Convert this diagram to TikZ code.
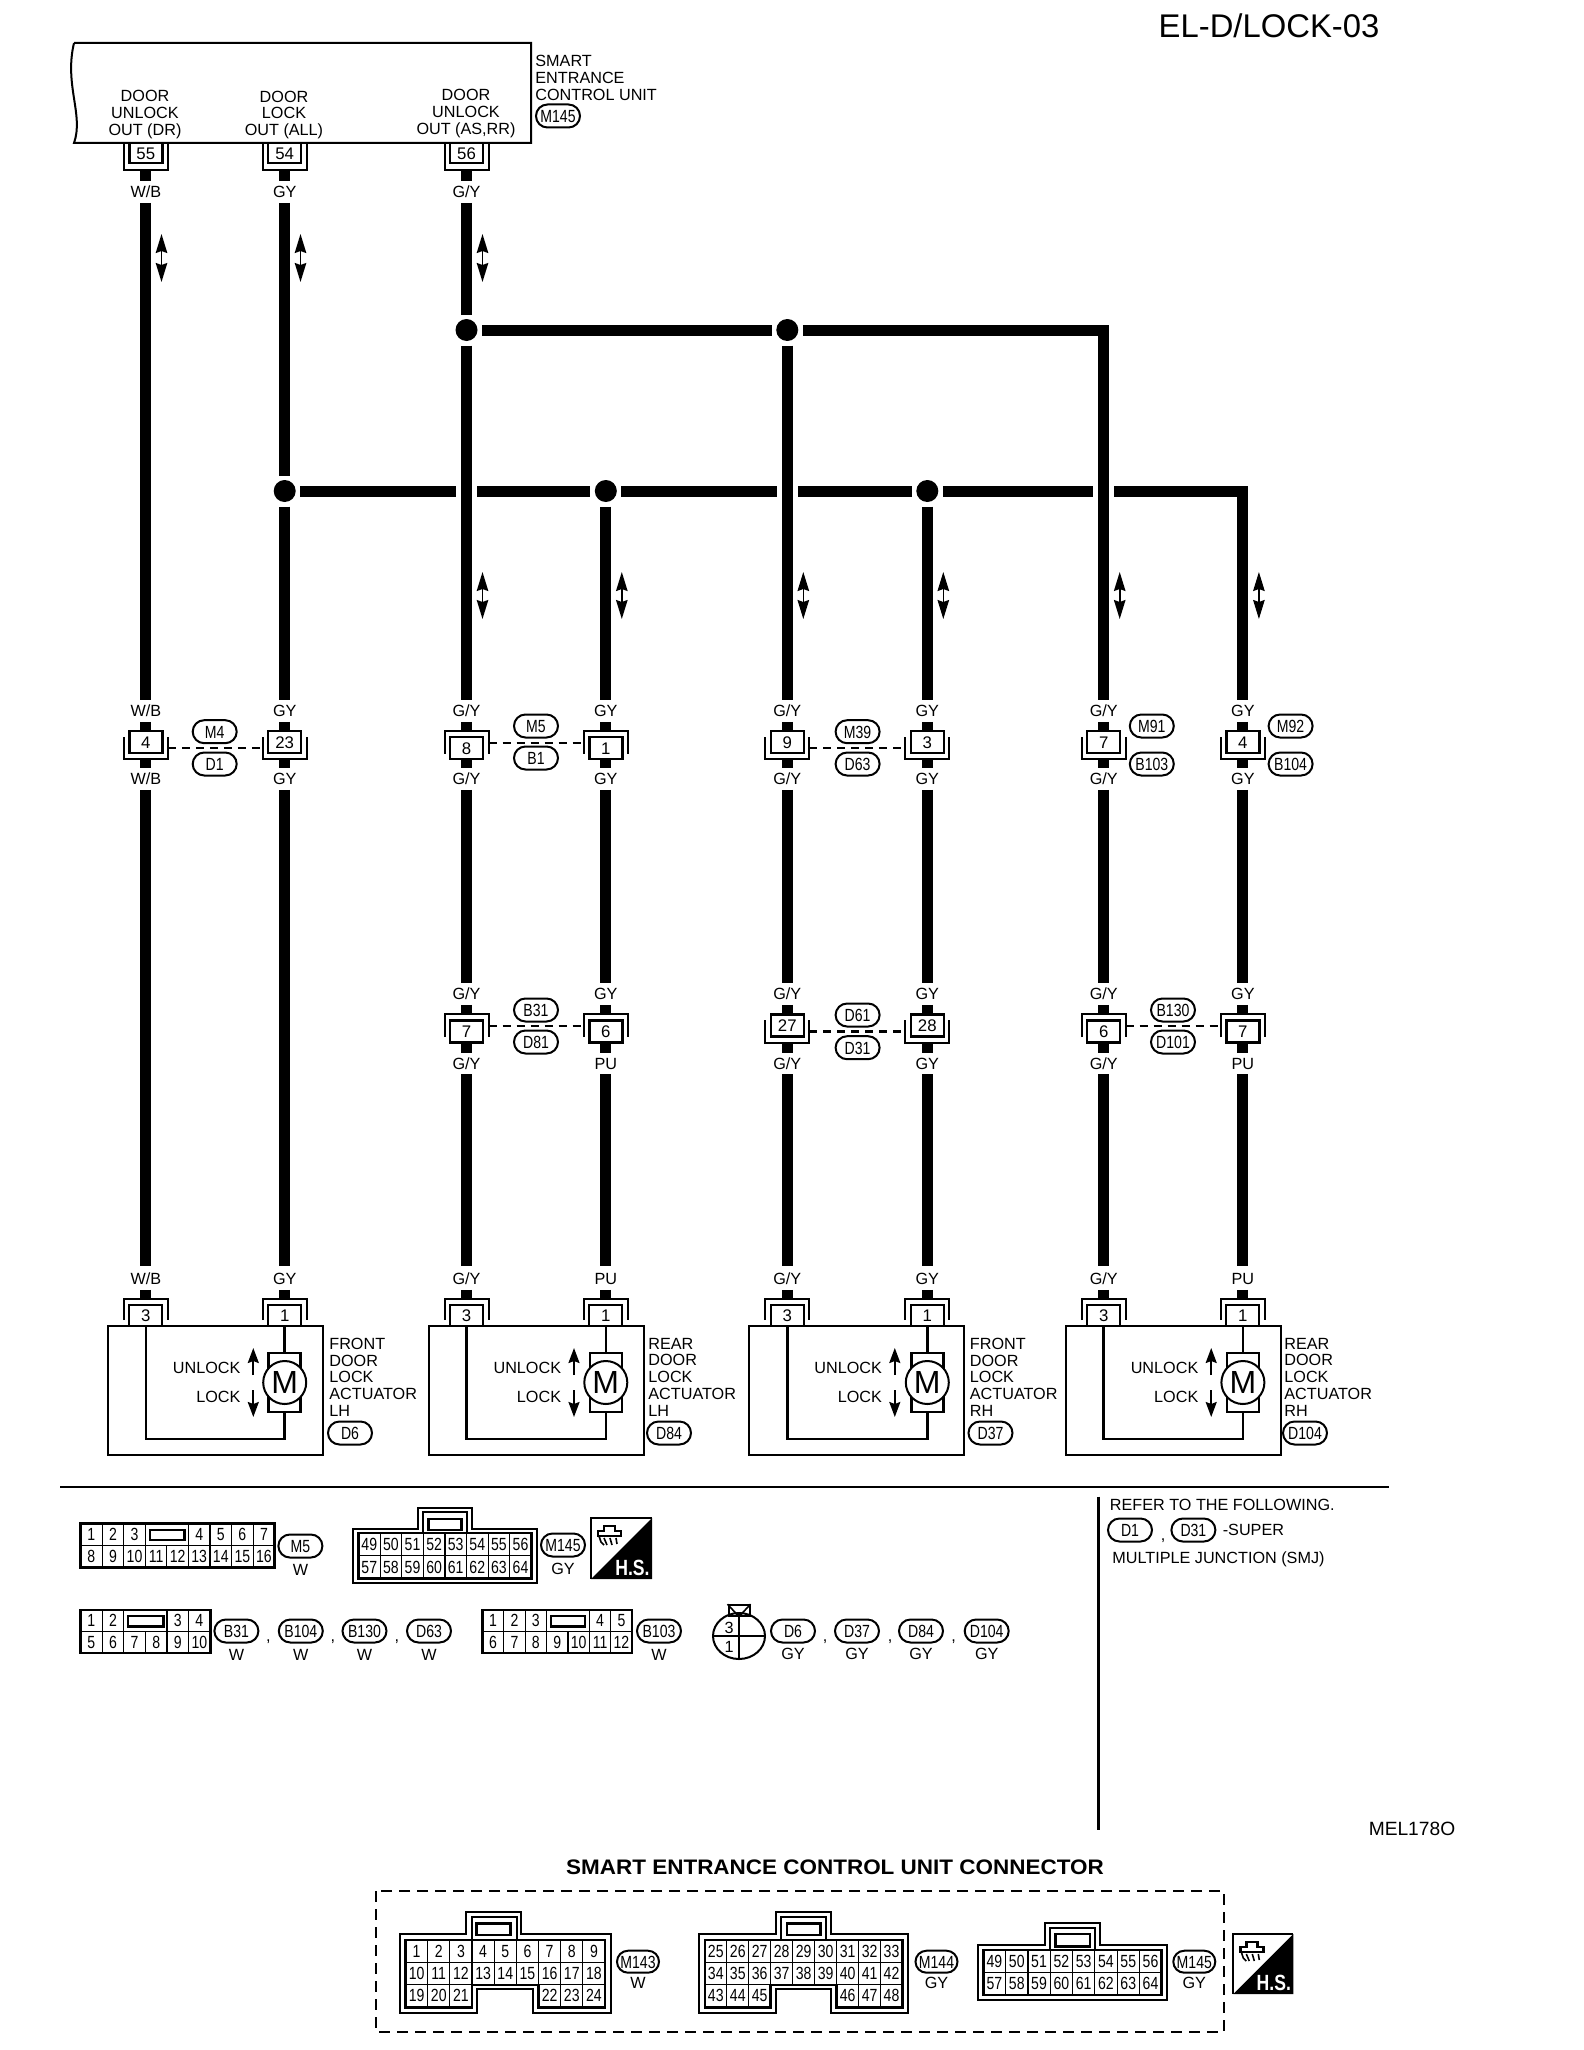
\documentclass[tikz,border=0pt]{standalone}
\usepackage{fontspec}
\setmainfont{Liberation Sans}
\newfontfamily\narrowfont[FakeStretch=0.8]{Liberation Sans}
\newfontfamily\widefont[FakeStretch=1.07]{Liberation Sans}
\usetikzlibrary{arrows.meta,shapes.misc,shapes.geometric}

\tikzset{
  wire/.style={line width=5.5pt},
  halo/.style={preaction={draw,white,line width=10.5pt}},
  thin line/.style={line width=1pt},
  shell/.style={line width=1pt},
  link/.style={line width=1pt,dash pattern=on 4pt off 3pt},
  tag/.style={inner sep=0pt,minimum height=10.5pt,text height=5.8pt,text depth=0pt,font=\fontsize{8.1pt}{8.4pt}\selectfont},
  plain/.style={inner sep=0pt,align=left,font=\fontsize{8.1pt}{8.4pt}\selectfont},
  junction/.style={circle,fill=black,inner sep=0pt,minimum size=11pt,outer sep=2.25pt},
  plugbox/.style={draw,line width=1.25pt,minimum width=16.5pt,minimum height=11pt,inner sep=0pt,text height=6pt,text depth=0pt,font=\fontsize{8.4pt}{8.4pt}\selectfont},
  oval/.style={draw,rounded rectangle,line width=1pt,minimum width=22pt,minimum height=11.5pt,inner sep=0pt,text height=6.3pt,text depth=0pt,font=\narrowfont\fontsize{8.8pt}{9pt}\selectfont},
  pin/.style={draw,line width=.6pt,inner sep=0pt,text height=6.2pt,text depth=0pt,font=\narrowfont\fontsize{8.8pt}{9pt}\selectfont},
  frame/.style={line width=1.25pt},
  updown/.style={<->,>={Stealth[length=9.5pt,width=5.75pt,inset=1pt]},line width=.8pt},
  updir/.style={->,>={Stealth[length=7.5pt,width=5.5pt,inset=1pt]},line width=1pt},
  motor/.style={draw,fill=white,circle,line width=1pt,minimum size=21.5pt,inner sep=0pt,font=\fontsize{16pt}{16pt}\selectfont},
  motorcase/.style={draw,line width=1.25pt,minimum width=16pt,minimum height=29.5pt},
  hs/.style={inner sep=0pt,text=white,font=\narrowfont\bfseries\fontsize{11pt}{11pt}\selectfont},
}

\newcommand{\plugup}[4]{
  \node[plugbox] (#1) at (#2,#3+11.3) {#4};
  \draw[shell] (#2-22,#3+6.3) |- (#2+22,#3+28.6) -- (#2+22,#3+6.3);
  \coordinate (#1-t) at (#2,#3);
  \coordinate (#1-b) at (#2,#3+28.6);
  \coordinate (#1-l) at (#2-22,#3+17);
  \coordinate (#1-r) at (#2+22,#3+17);
}
\newcommand{\plugdn}[4]{
  \node[plugbox] (#1) at (#2,#3+17.3) {#4};
  \draw[shell] (#2-22,#3+23) |- (#2+22,#3) -- (#2+22,#3+23);
  \coordinate (#1-t) at (#2,#3);
  \coordinate (#1-b) at (#2,#3+28.6);
  \coordinate (#1-l) at (#2-22,#3+12);
  \coordinate (#1-r) at (#2+22,#3+12);
}
\newcommand{\plugunit}[3]{
  \node[plugbox,minimum height=10pt] (#1) at (#2,153) {#3};
  \draw[shell] (#2-22,143) |- (#2+22,170) -- (#2+22,143);
  \coordinate (#1-b) at (#2,170);
}
\newcommand{\plugact}[3]{
  \node[plugbox,minimum height=10.5pt,line width=1pt] (#1) at (#2,1315.5) {#3};
  \draw[shell] (#2-22,1320) |- (#2+22,1299) -- (#2+22,1320);
  \coordinate (#1-t) at (#2,1299);
}
\newcommand{\actuator}[6]{
  \plugact{#1L}{#2}{3}
  \plugact{#1R}{#3}{1}
  \node[draw,line width=1pt,minimum width=107.5pt,minimum height=64.5pt,inner sep=0pt] (#1box) at (#2+69.5,1390.5) {};
  \node[motorcase] (#1case) at (#3,1382.5) {};
  \node[motor] (#1m) at (#3,1382.5) {M};
  \draw[line width=1.25pt] (#1R) -- (#1case);
  \draw[line width=1.25pt] (#1L) |- (#3,1439) -- (#1case);
  \node[tag,anchor=east] (#1un) at (#2+95,1368) {UNLOCK};
  \node[tag,anchor=east] (#1lo) at (#2+95,1397) {LOCK};
  \coordinate (#1ua) at (#2+107.5,1375);
  \coordinate (#1ub) at (#2+107.5,1348);
  \coordinate (#1da) at (#2+107.5,1390);
  \coordinate (#1db) at (#2+107.5,1417);
  \draw[updir] (#1ua) -- (#1ub);
  \draw[updir] (#1da) -- (#1db);
  \node[plain,anchor=north west] (#1txt) at (#6,1337.5) {#4};
  \node[oval] (#1ov) at (#6+21,1433) {#5};
}
\newcommand{\pinrow}[7]{
  \foreach \n [count=\i from #6] in {#7}
    \node[pin,minimum width=#4*.5pt,minimum height=#5*.5pt] (#1-\n) at (#2+\i*#4+.5*#4,#3+.5*#5) {\n};
}
\newcommand{\hsicon}[4]{
  \fill (#2+#4,#3) -- (#2+#4,#3+#4) -- (#2,#3+#4) -- cycle;
  \draw[line width=.9pt] (#2,#3+#4) -- (#2,#3) -- (#2+#4,#3);
  \draw[line width=1.4pt] (#2+7,#3+13) -- (#2+13,#3+13) -- (#2+13,#3+8) -- (#2+24,#3+8) -- (#2+24,#3+13) -- (#2+30,#3+13) -- (#2+30,#3+18) -- (#2+7,#3+18) -- cycle;
  \draw[line width=.8pt] (#2+8,#3+18) -- (#2+10,#3+24) -- (#2+13,#3+27) (#2+13,#3+20) -- (#2+16,#3+27) (#2+19,#3+20) -- (#2+21,#3+27) (#2+25,#3+20) -- (#2+26,#3+26);
  \node[hs,anchor=south east] (#1) at (#2+#4-2,#3+#4-3) {H.S.};
}

\begin{document}
\begin{tikzpicture}[x=.5pt,y=-.5pt]
  \useasboundingbox (0,0) rectangle (1584,2050);

  \node[inner sep=0pt,font=\fontsize{16.4pt}{17pt}\selectfont] (sheet) at (1269,26) {EL-D/LOCK-03};

  \draw[thin line] (74,43) -- (531,43) -- (531,143) -- (74,143) .. controls (84,115) and (64,85) .. (74,43);
  \node[plain,align=center] (door1) at (145,114.5) {DOOR\\UNLOCK\\OUT (DR)};
  \node[plain,align=center] (door2) at (284,115) {DOOR\\LOCK\\OUT (ALL)};
  \node[plain,align=center] (door3) at (466,113.5) {DOOR\\UNLOCK\\OUT (AS,RR)};
  \node[plain,anchor=north west] (ecu) at (535,55) {SMART\\ENTRANCE\\CONTROL UNIT};
  \node[oval] (ecuov) at (558,116) {M145};

  \plugunit{ua}{145.8}{55}
  \plugunit{ub}{284.7}{54}
  \plugunit{uc}{466.5}{56}

  \plugup{pa}{145.8}{730.7}{4}
  \plugup{pb}{284.7}{730.7}{23}
  \plugdn{pc}{466.5}{730.7}{8}
  \plugdn{pd}{605.8}{730.7}{1}
  \plugup{pe}{787.3}{730.7}{9}
  \plugup{pf}{927.3}{730.7}{3}
  \plugup{pg}{1103.7}{730.7}{7}
  \plugup{ph}{1242.9}{730.7}{4}

  \plugdn{qc}{466.5}{1014}{7}
  \plugdn{qd}{605.8}{1014}{6}
  \plugup{qe}{787.3}{1014}{27}
  \plugup{qf}{927.3}{1014}{28}
  \plugdn{qg}{1103.7}{1014}{6}
  \plugdn{qh}{1242.9}{1014}{7}

  \actuator{aa}{145.8}{284.7}{FRONT\\DOOR\\LOCK\\ACTUATOR\\LH}{D6}{329}
  \actuator{bb}{466.5}{605.8}{REAR\\DOOR\\LOCK\\ACTUATOR\\LH}{D84}{648}
  \actuator{cc}{787.3}{927.3}{FRONT\\DOOR\\LOCK\\ACTUATOR\\RH}{D37}{969.5}
  \actuator{dd}{1103.7}{1242.9}{REAR\\DOOR\\LOCK\\ACTUATOR\\RH}{D104}{1284}

  \foreach \c/\x/\s/\t in {a/145.8/{W/B}/{W/B},b/284.7/GY/GY,c/466.5/{G/Y}/{G/Y},d/605.8/GY/GY,e/787.3/{G/Y}/{G/Y},f/927.3/GY/GY,g/1103.7/{G/Y}/{G/Y},h/1242.9/GY/GY}{
    \node[tag] (\c1) at (\x,711) {\s};
    \node[tag] (\c2) at (\x,779) {\t};
  }
  \foreach \c/\x/\s/\t in {c/466.5/{G/Y}/{G/Y},d/605.8/GY/PU,e/787.3/{G/Y}/{G/Y},f/927.3/GY/GY,g/1103.7/{G/Y}/{G/Y},h/1242.9/GY/PU}{
    \node[tag] (\c3) at (\x,994) {\s};
    \node[tag] (\c4) at (\x,1063.5) {\t};
  }
  \foreach \c/\x/\s in {a/145.8/{W/B},b/284.7/GY,c/466.5/{G/Y},d/605.8/PU,e/787.3/{G/Y},f/927.3/GY,g/1103.7/{G/Y},h/1242.9/PU}
    \node[tag] (\c5) at (\x,1279) {\s};
  \node[tag] (a0) at (145.8,192) {W/B};
  \node[tag] (b0) at (284.7,192) {GY};
  \node[tag] (c0) at (466.5,192) {G/Y};

  \node[junction] (jb) at (284.7,491) {};
  \node[junction] (jd) at (605.8,491) {};
  \node[junction] (jf) at (927.3,491) {};
  \node[junction] (jc) at (466.5,330) {};
  \node[junction] (je) at (787.3,330) {};

  \draw[wire] (jb) -- (jd);
  \draw[wire] (jd) -- (jf);
  \draw[wire] (jf) -| (h1);

  \draw[wire] (ua-b) -- (a0);
  \draw[wire] (ub-b) -- (b0);
  \draw[wire] (uc-b) -- (c0);
  \draw[wire] (a0) -- (a1);
  \draw[wire] (b0) -- (jb);
  \draw[wire] (jb) -- (b1);
  \draw[wire] (c0) -- (jc);
  \draw[wire] (jc) -- (je);
  \draw[wire,halo] (jc) -- (c1);
  \draw[wire,halo] (je) -- (e1);
  \draw[wire,halo] (je) -| (g1);
  \draw[wire] (jd) -- (d1);
  \draw[wire] (jf) -- (f1);

  \foreach \c in {a,b,c,d,e,f,g,h}{
    \draw[wire] (\c1) -- (p\c-t);
    \draw[wire] (p\c-b) -- (\c2);
  }
  \foreach \c in {c,d,e,f,g,h}{
    \draw[wire] (\c2) -- (\c3);
    \draw[wire] (\c3) -- (q\c-t);
    \draw[wire] (q\c-b) -- (\c4);
    \draw[wire,shorten >=1.25pt] (\c4) -- (\c5);
  }
  \draw[wire,shorten >=1.25pt] (a2) -- (a5);
  \draw[wire,shorten >=1.25pt] (b2) -- (b5);
  \draw[wire] (a5) -- (aaL-t);
  \draw[wire] (b5) -- (aaR-t);
  \draw[wire] (c5) -- (bbL-t);
  \draw[wire] (d5) -- (bbR-t);
  \draw[wire] (e5) -- (ccL-t);
  \draw[wire] (f5) -- (ccR-t);
  \draw[wire] (g5) -- (ddL-t);
  \draw[wire] (h5) -- (ddR-t);

  \foreach \x [count=\i] in {161.5,300.5,482.5}{
    \coordinate (ra\i) at (\x,234);
    \coordinate (rb\i) at (\x,282);
    \draw[updown] (ra\i) -- (rb\i);
  }
  \foreach \x [count=\i] in {482.5,621.8,803.3,943.3,1119.7,1258.9}{
    \coordinate (sa\i) at (\x,572);
    \coordinate (sb\i) at (\x,619);
    \draw[updown] (sa\i) -- (sb\i);
  }

  \draw[link] (pa-r) -- (pb-l);
  \draw[link] (pc-r) -- (pd-l);
  \draw[link] (pe-r) -- (pf-l);
  \draw[link] (qc-r) -- (qd-l);
  \draw[link,line width=1.5pt] (qe-r) -- (qf-l);
  \draw[link] (qg-r) -- (qh-l);

  \node[oval] (ovM4) at (214.7,731.7) {M4};
  \node[oval] (ovD1) at (214.7,764) {D1};
  \node[oval] (ovM5) at (536,726) {M5};
  \node[oval] (ovB1) at (536,758) {B1};
  \node[oval] (ovM39) at (857.6,731.7) {M39};
  \node[oval] (ovD63) at (857.6,764) {D63};
  \node[oval] (ovM91) at (1151.8,726) {M91};
  \node[oval] (ovB103) at (1151.8,764) {B103};
  \node[oval] (ovM92) at (1290.6,726) {M92};
  \node[oval] (ovB104) at (1290.6,764) {B104};
  \node[oval] (ovB31) at (536,1010) {B31};
  \node[oval] (ovD81) at (536,1042) {D81};
  \node[oval] (ovD61) at (857.6,1015) {D61};
  \node[oval] (ovD31) at (857.6,1047.7) {D31};
  \node[oval] (ovB130) at (1173,1010) {B130};
  \node[oval] (ovD101) at (1173,1042) {D101};

  \draw[thin line] (60,1486.7) -- (1388.5,1486.7);
  \draw[line width=1.25pt] (1098.3,1496.7) -- (1098.3,1830);

  \pinrow{m5}{80.6}{1523.3}{21.57}{22}{0}{1,2,3}
  \pinrow{m5}{80.6}{1523.3}{21.57}{22}{5}{4,5,6,7}
  \pinrow{m5}{80.6}{1545.3}{21.57}{22}{0}{8,9,10,11,12,13,14,15,16}
  \draw[frame] (80.6,1523.3) rectangle (274.7,1567.3);
  \draw[frame] (150,1530) rectangle (184.5,1540);
  \node[oval] (k5) at (300.4,1546) {M5};
  \node[tag] (k5w) at (300.4,1570) {W};

  \draw[thin line] (353.4,1529) -| (417.8,1507.7) -| (472,1529) -| (536.5,1583.3) -| (353.4,1529) -- cycle;
  \draw[thin line] (423,1533) -- (423,1511.7) -- (467,1511.7) -- (467,1533);
  \pinrow{t1}{358.5}{1533}{21.6}{22.65}{0}{49,50,51,52,53,54,55,56}
  \pinrow{t1}{358.5}{1555.65}{21.6}{22.65}{0}{57,58,59,60,61,62,63,64}
  \draw[frame] (358.5,1533) rectangle (531.3,1578.3);
  \draw[frame] (428.5,1519) rectangle (461.3,1530);
  \node[oval] (k145) at (563,1545) {M145};
  \node[tag] (k145g) at (563,1569) {GY};
  \hsicon{hsa}{591}{1518}{61}

  \pinrow{b1}{80.6}{1610}{21.6}{21.5}{0}{1,2}
  \pinrow{b1}{80.6}{1610}{21.6}{21.5}{4}{3,4}
  \pinrow{b1}{80.6}{1631.5}{21.6}{21.5}{0}{5,6,7,8,9,10}
  \draw[frame] (80.6,1610) rectangle (210.3,1653);
  \draw[frame] (128,1616) rectangle (163.6,1626.7);
  \foreach \n/\x in {B31/236.4,B104/300.8,B130/364.5,D63/429}{
    \node[oval] (k\n) at (\x,1631) {\n};
    \node[tag] (k\n w) at (\x,1655) {W};
  }
  \foreach \x [count=\i] in {268.4,332.8,396.9}
    \node[tag] (ca\i) at (\x,1636) {,};

  \pinrow{c1}{482.3}{1610}{21.41}{21.5}{0}{1,2,3}
  \pinrow{c1}{482.3}{1610}{21.41}{21.5}{5}{4,5}
  \pinrow{c1}{482.3}{1631.5}{21.41}{21.5}{0}{6,7,8,9,10,11,12}
  \draw[frame] (482.3,1610) rectangle (632.2,1653);
  \draw[frame] (551,1616) rectangle (585,1626.7);
  \node[oval] (k103) at (659,1631) {B103};
  \node[tag] (k103w) at (659,1655) {W};

  \node[draw,ellipse,line width=1pt,minimum width=26pt,minimum height=23pt,inner sep=0pt] (rnd) at (739,1636) {};
  \node[draw,line width=1pt,minimum width=10.5pt,minimum height=5.2pt,inner sep=0pt] (rndtab) at (739,1610.4) {};
  \draw[line width=.8pt] (rndtab.north west) -- (rndtab.south) -- (rndtab.north east);
  \draw[line width=1pt] (rnd.north) -- (rnd.south);
  \draw[line width=1pt] (rnd.west) -- (rnd.east);
  \node[tag] (rnd3) at (729,1628) {3};
  \node[tag] (rnd1) at (729,1647) {1};
  \foreach \n/\x in {D6/793,D37/857,D84/921,D104/986.7}{
    \node[oval] (k\n) at (\x,1631) {\n};
    \node[tag] (k\n g) at (\x,1654) {GY};
  }
  \foreach \x [count=\i] in {825,890,953.7}
    \node[tag] (cb\i) at (\x,1636) {,};

  \node[tag,anchor=west] (ref1) at (1109.5,1505) {REFER TO THE FOLLOWING.};
  \node[oval] (refD1) at (1130,1530) {D1};
  \node[tag] (refc) at (1163,1535) {,};
  \node[oval] (refD31) at (1193.4,1530) {D31};
  \node[tag,anchor=west] (ref2) at (1222.4,1530) {-SUPER};
  \node[tag,anchor=west] (ref3) at (1112,1557.7) {MULTIPLE JUNCTION (SMJ)};

  \node[tag,anchor=east,font=\fontsize{9.6pt}{10pt}\selectfont,text height=6.9pt] (mel) at (1455.6,1829) {MEL178O};

  \node[inner sep=0pt,font=\widefont\bfseries\fontsize{10.5pt}{11pt}\selectfont] (title) at (835,1867.7) {SMART ENTRANCE CONTROL UNIT CONNECTOR};
  \draw[line width=1pt,dash pattern=on 5.5pt off 3.5pt] (375.8,1891) rectangle (1224.3,2031.7);

  \draw[thin line] (399.5,1934.3) -| (465.6,1911.7) -| (521.3,1934.3) -| (610.7,2012.7) -| (532.8,1989.3) -| (477,2012.7) -| (399.5,1934.3) -- cycle;
  \draw[thin line] (472,1940) -- (472,1917.3) -- (517,1917.3) -- (517,1940);
  \pinrow{x1}{405.5}{1940}{22.17}{22.3}{0}{1,2,3,4,5,6,7,8,9}
  \pinrow{x1}{405.5}{1962.3}{22.17}{22.3}{0}{10,11,12,13,14,15,16,17,18}
  \pinrow{x1}{405.5}{1984.6}{22.17}{22.3}{0}{19,20,21}
  \pinrow{x1}{405.5}{1984.6}{22.17}{22.3}{6}{22,23,24}
  \draw[frame] (405.5,1940) -| (605,2007.7) -| (538.5,1985) -| (472,2007.7) -| (405.5,1940) -- cycle;
  \draw[frame] (476.6,1923.3) rectangle (510.7,1935);
  \node[oval,minimum width=21pt,minimum height=11pt] (k143) at (638,1961.7) {M143};
  \node[tag] (k143w) at (638,1983) {W};

  \draw[thin line] (698.9,1934.3) -| (776,1911.7) -| (831.3,1934.3) -| (908.4,2012.7) -| (830.5,1989.3) -| (776.4,2012.7) -| (698.9,1934.3) -- cycle;
  \draw[thin line] (781,1940) -- (781,1917.3) -- (825.8,1917.3) -- (825.8,1940);
  \pinrow{y1}{704.8}{1940}{21.97}{22.3}{0}{25,26,27,28,29,30,31,32,33}
  \pinrow{y1}{704.8}{1962.3}{21.97}{22.3}{0}{34,35,36,37,38,39,40,41,42}
  \pinrow{y1}{704.8}{1984.6}{21.97}{22.3}{0}{43,44,45}
  \pinrow{y1}{704.8}{1984.6}{21.97}{22.3}{6}{46,47,48}
  \draw[frame] (704.8,1940) -| (902.5,2007.7) -| (836.7,1985) -| (770.7,2007.7) -| (704.8,1940) -- cycle;
  \draw[frame] (787,1923.3) rectangle (820.6,1935);
  \node[oval,minimum width=21pt,minimum height=11pt] (k144) at (936.5,1961.7) {M144};
  \node[tag] (k144g) at (936.5,1983) {GY};

  \draw[thin line] (978.3,1945) -| (1045,1923.3) -| (1100,1945) -| (1166.7,2000) -| (978.3,1945) -- cycle;
  \draw[thin line] (1050,1950) -- (1050,1928) -- (1095,1928) -- (1095,1950);
  \pinrow{z1}{983.3}{1950}{22.3}{22.5}{0}{49,50,51,52,53,54,55,56}
  \pinrow{z1}{983.3}{1972.5}{22.3}{22.5}{0}{57,58,59,60,61,62,63,64}
  \draw[frame] (983.3,1950) rectangle (1161.7,1995);
  \draw[frame] (1055.7,1934) rectangle (1090,1946.7);
  \node[oval,minimum width=21pt,minimum height=11pt] (k145b) at (1194.3,1961.7) {M145};
  \node[tag] (k145bg) at (1194.3,1983) {GY};
  \hsicon{hsb}{1233.3}{1934}{60}
\end{tikzpicture}
\end{document}
